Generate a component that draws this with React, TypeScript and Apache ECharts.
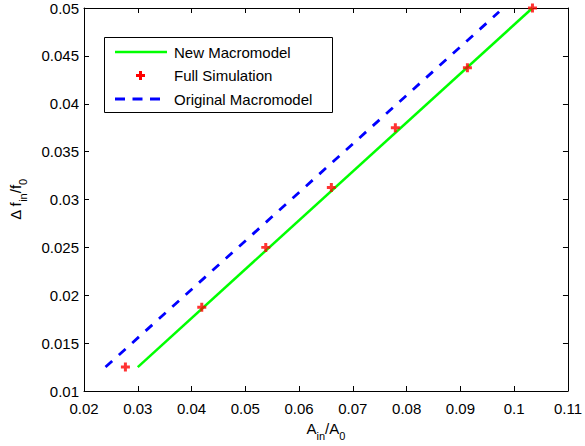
import React, { useEffect, useRef } from "react";
import * as echarts from "echarts";

const newModelX = [0.03, 0.1034];
const newModelY = [0.0125, 0.05];
const origModelX = [0.024, 0.0972];
const origModelY = [0.0125, 0.0496];
const simX = [0.0277, 0.0419, 0.0538, 0.066, 0.0779, 0.0913, 0.1034];
const simY = [0.0125, 0.01875, 0.025, 0.03125, 0.0375, 0.04375, 0.05];
const legendNames = ["New Macromodel", "Full Simulation", "Original Macromodel"];

const FONT = "'Liberation Sans', Arial, Helvetica, sans-serif";
const PLUS = "path://M3,0H6V3H9V6H6V9H3V6H0V3H3Z";

export default function App() {
  const ref = useRef<HTMLDivElement>(null);
  useEffect(() => {
    if (!ref.current) return;
    const chart = echarts.init(ref.current, undefined, { renderer: "svg" });
    const zip = (xs: number[], ys: number[]) => xs.map((x, i) => [x, ys[i]]);
    const axisCommon = {
      min: 0,
      axisLine: { show: true, onZero: false, lineStyle: { color: "#000", width: 1 } },
      axisTick: { show: true, inside: true, length: 5, lineStyle: { color: "#000" } },
      splitLine: { show: false },
    };
    const labelStyle = { color: "#000", fontSize: 15, fontFamily: FONT };
    chart.setOption({
      animation: false,
      backgroundColor: "#fff",
      grid: { left: 79, top: 8, width: 490, height: 389 },
      xAxis: [
        {
          ...axisCommon,
          type: "value",
          min: 0.02,
          max: 0.11,
          interval: 0.01,
          position: "bottom",
          axisLabel: { ...labelStyle, margin: 10, formatter: (v: number) => String(+v.toFixed(3)) },
          name: "{a|A}{s|in}{a|/A}{s|0}",
          nameLocation: "middle",
          nameGap: 30,
          nameTextStyle: {
            rich: {
              a: { fontSize: 15, fontFamily: FONT, color: "#000", verticalAlign: "top" },
              s: { fontSize: 11, fontFamily: FONT, color: "#000", padding: [9, 0, 0, 0], verticalAlign: "top" },
            },
          },
        },
        {
          ...axisCommon,
          type: "value",
          min: 0.02,
          max: 0.11,
          interval: 0.01,
          position: "top",
          axisLabel: { show: false },
        },
      ],
      yAxis: [
        {
          ...axisCommon,
          type: "value",
          min: 0.01,
          max: 0.05,
          interval: 0.005,
          position: "left",
          axisLabel: { ...labelStyle, margin: 5, formatter: (v: number) => String(+v.toFixed(4)) },
          name: "{a|Δ f}{s|in}{a|/f}{s|0}",
          nameLocation: "middle",
          nameGap: 56,
          nameTextStyle: {
            rich: {
              a: { fontSize: 15, fontFamily: FONT, color: "#000", verticalAlign: "top" },
              s: { fontSize: 11, fontFamily: FONT, color: "#000", padding: [9, 0, 0, 0], verticalAlign: "top" },
            },
          },
        },
        {
          ...axisCommon,
          type: "value",
          min: 0.01,
          max: 0.05,
          interval: 0.005,
          position: "right",
          axisLabel: { show: false },
        },
      ],
      series: [
        {
          name: legendNames[0],
          type: "line",
          data: zip(newModelX, newModelY),
          showSymbol: false,
          lineStyle: { color: "#00ff00", width: 2.5 },
          z: 2,
        },
        {
          name: legendNames[2],
          type: "line",
          data: zip(origModelX, origModelY),
          showSymbol: false,
          lineStyle: { color: "#0000ff", width: 2.8, type: [9, 9] },
          z: 2,
        },
        {
          name: legendNames[1],
          type: "scatter",
          data: zip(simX, simY),
          symbol: PLUS,
          symbolSize: 9,
          itemStyle: { color: "#ff0000" },
          clip: false,
          z: 3,
        },
      ],
      graphic: [
        {
          type: "rect",
          shape: { x: 104.5, y: 37.5, width: 228, height: 75 },
          style: { fill: "#fff", stroke: "#000", lineWidth: 1 },
          z: 10,
        },
        {
          type: "line",
          shape: { x1: 115, y1: 52, x2: 167, y2: 52 },
          style: { stroke: "#00ff00", lineWidth: 2.5 },
          z: 11,
        },
        {
          type: "logoPlus",
          x: 136,
          y: 71,
          scaleX: 1,
          scaleY: 1,
          style: { fill: "#ff0000" },
          z: 11,
        },
        {
          type: "line",
          shape: { x1: 115, y1: 99, x2: 167, y2: 99 },
          style: { stroke: "#0000ff", lineWidth: 2.8, lineDash: [10, 7.5] },
          z: 11,
        },
        ...legendNames.map((n, i) => ({
          type: "text",
          x: 174,
          y: 52 + i * 23.5,
          style: { text: n, fill: "#000", font: `15px ${FONT}`, verticalAlign: "middle" },
          z: 11,
        })),
      ],
    });
    return () => chart.dispose();
  }, []);
  return <div ref={ref} style={{ position: "fixed", left: 0, top: 0, width: 585, height: 446 }} />;
}

echarts.graphic.registerShape(
  "logoPlus",
  echarts.graphic.extendPath("M3,0H6V3H9V6H6V9H3V6H0V3H3Z", {})
);
